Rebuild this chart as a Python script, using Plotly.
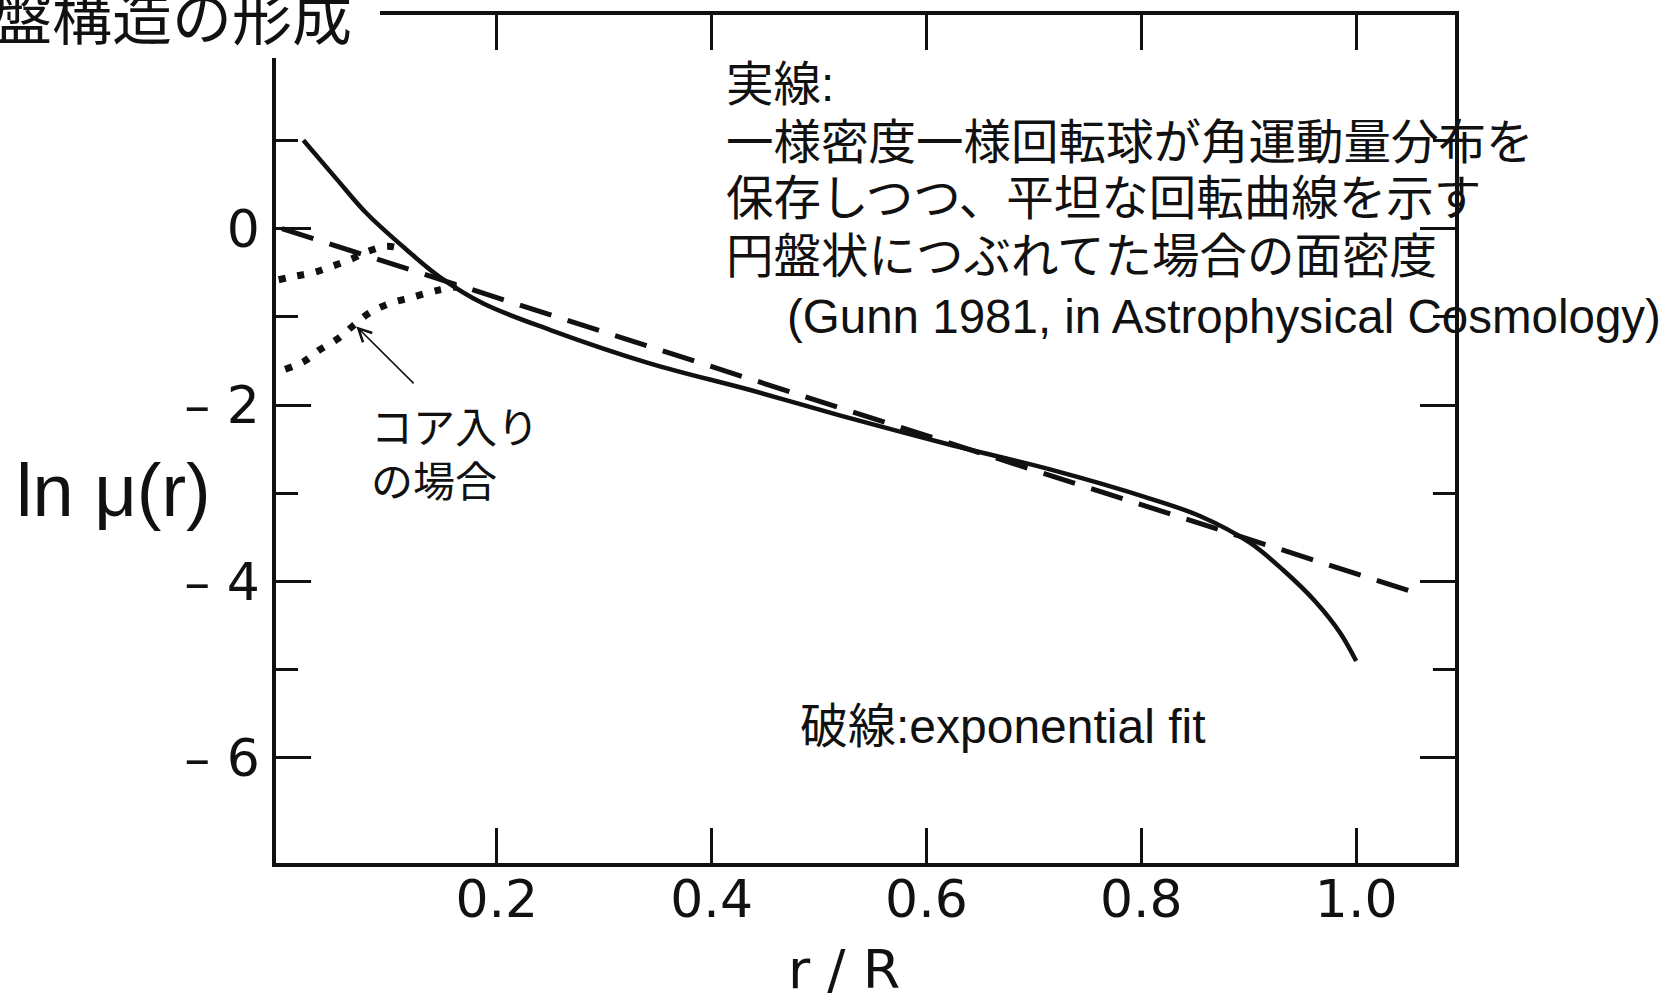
import plotly.graph_objects as go

# Surface density profile ln mu(r) of a disk formed from a uniformly rotating,
# uniform-density sphere (Gunn 1981), with an exponential fit and two cored variants.
r_solid = [0.02, 0.051, 0.079, 0.116, 0.147, 0.1875, 0.25, 0.343, 0.436, 0.52,
           0.622, 0.715, 0.808, 0.855, 0.901, 0.932, 0.963, 0.985, 1.0]
ln_mu_solid = [1.0, 0.56, 0.17, -0.24, -0.55, -0.85, -1.15, -1.53, -1.83, -2.12,
               -2.45, -2.73, -3.06, -3.26, -3.56, -3.87, -4.24, -4.58, -4.9]

r_fit = [0.0, 1.061]
ln_mu_fit = [0.0, -4.15]

r_core_upper = [-0.003, 0.012, 0.029, 0.046, 0.064, 0.080, 0.0976, 0.115]
ln_mu_core_upper = [-0.58, -0.54, -0.50, -0.43, -0.35, -0.26, -0.20, -0.24]

r_core_lower = [0.003, 0.02, 0.035, 0.0525, 0.0665, 0.081, 0.10, 0.121, 0.145, 0.163]
ln_mu_core_lower = [-1.595, -1.51, -1.375, -1.245, -1.10, -0.96, -0.85, -0.78, -0.70, -0.66]

x_ticks = [0.2, 0.4, 0.6, 0.8, 1.0]
x_tick_labels = ["0.2", "0.4", "0.6", "0.8", "1.0"]
y_ticks = [0, -2, -4, -6]
y_tick_labels = ["0", "\u2013 2", "\u2013 4", "\u2013 6"]
y_minor_ticks = [1, -1, -3, -5]

title_text = "盤構造の形成"
solid_note = ["実線:",
              "一様密度一様回転球が角運動量分布を",
              "保存しつつ、平坦な回転曲線を示す",
              "円盤状につぶれてた場合の面密度"]
citation = "(Gunn 1981, in Astrophysical Cosmology)"
core_note = ["コア入り", "の場合"]
fit_note = "破線:exponential fit"

INK = "#111111"
TEXT_FONT = "Liberation Sans, Noto Sans CJK JP, sans-serif"
TICK_FONT = "DejaVu Sans, sans-serif"

W, H = 1670, 1007
PLOT_L, PLOT_R, PLOT_T, PLOT_B = 276, 1455, 15, 863


def px_x(p):
    return (p - PLOT_L) / (PLOT_R - PLOT_L)


def px_y(p):
    return (PLOT_B - p) / (PLOT_B - PLOT_T)


fig = go.Figure()

fig.add_trace(go.Scatter(x=r_solid, y=ln_mu_solid, mode="lines", line_shape="spline",
                         line=dict(color=INK, width=4.5), showlegend=False, hoverinfo="skip"))
fig.add_trace(go.Scatter(x=r_fit, y=ln_mu_fit, mode="lines",
                         line=dict(color=INK, width=5, dash="33px,17px"),
                         showlegend=False, hoverinfo="skip"))
for rx, ry in ((r_core_upper, ln_mu_core_upper), (r_core_lower, ln_mu_core_lower)):
    fig.add_trace(go.Scatter(x=rx, y=ry, mode="lines", line_shape="spline",
                             line=dict(color=INK, width=7, dash="7px,12px"),
                             showlegend=False, hoverinfo="skip"))

annotations = []


def add_text(text, left, cy, size, family=TEXT_FONT, xanchor="left"):
    annotations.append(dict(text=text, x=px_x(left), y=px_y(cy), xref="paper", yref="paper",
                            xanchor=xanchor, yanchor="middle", showarrow=False,
                            font=dict(family=family, size=size, color=INK)))


add_text(title_text, -10, 13, 60, family="Noto Sans CJK JP, sans-serif")
for line, cy in zip(solid_note, [85, 143, 198, 256]):
    add_text(line, 724, cy, 47.5)
add_text(citation, 785, 316, 47.5)
for line, cy in zip(core_note, [428, 483]):
    add_text(line, 369, cy, 42)
add_text(fit_note, 798, 726, 48)
add_text("ln \u03bc(r)", 14, 490, 74)
add_text("r / R", 844, 969, 54, family=TICK_FONT, xanchor="center")

# arrow pointing at the lower cored profile
annotations.append(dict(x=0.068, y=-1.093, ax=0.124, ay=-1.772, xref="x", yref="y",
                        axref="x", ayref="y", text="", showarrow=True, arrowhead=5,
                        arrowsize=1.6, arrowwidth=1.6, arrowcolor=INK, standoff=2))

axis_common = dict(showline=True, linewidth=3.5, linecolor=INK, mirror="ticks",
                   ticks="inside", ticklen=35, tickwidth=3, tickcolor=INK,
                   showgrid=False, zeroline=False,
                   tickfont=dict(family=TICK_FONT, size=52, color=INK))

fig.update_layout(
    width=W, height=H, autosize=False,
    margin=dict(l=PLOT_L, r=W - PLOT_R, t=PLOT_T, b=H - PLOT_B, pad=0),
    paper_bgcolor="white", plot_bgcolor="white",
    xaxis=dict(range=[-0.0055, 1.092], tickmode="array", tickvals=x_ticks,
               ticktext=x_tick_labels, ticklabelstandoff=-12, **axis_common),
    yaxis=dict(range=[-7.19, 2.42], tickmode="array", tickvals=y_ticks,
               ticktext=y_tick_labels, ticklabelstandoff=2,
               minor=dict(tickmode="array", tickvals=y_minor_ticks, ticks="inside",
                          ticklen=22, tickwidth=3, tickcolor=INK, showgrid=False),
               **axis_common),
    shapes=[dict(type="rect", xref="paper", yref="paper",
                 x0=px_x(-5), x1=px_x(380), y0=px_y(58), y1=px_y(-5),
                 fillcolor="white", line=dict(width=0), layer="above")],
    annotations=annotations,
)

fig.write_html("out.html")
